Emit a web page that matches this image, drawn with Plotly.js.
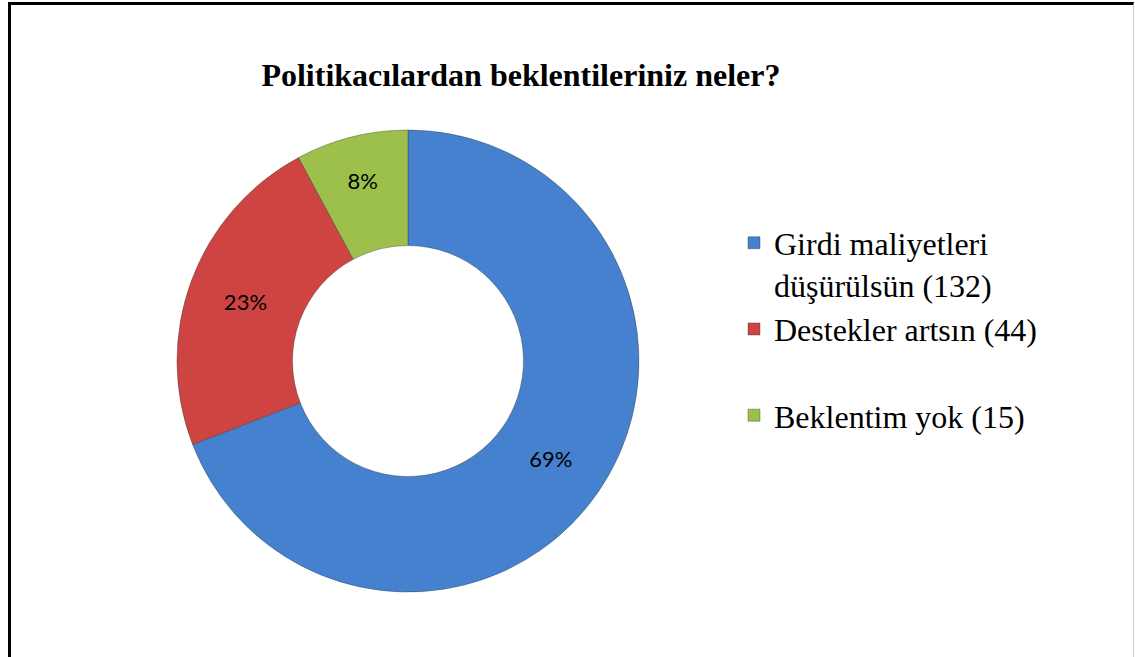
<!DOCTYPE html>
<html>
<head>
<meta charset="utf-8">
<script src="https://cdn.plot.ly/plotly-3.0.1.min.js"></script>
<style>
  html, body { margin: 0; padding: 0; background: #ffffff; }
  #wrap { position: relative; width: 1135px; height: 657px; overflow: hidden; }
  #chart { position: absolute; left: 0; top: 0; width: 1135px; height: 657px; }
  #frame { position: absolute; left: 8px; top: 2px; width: 1126px; height: 700px;
           border-top: 3px solid #000; border-left: 3px solid #000; border-right: 1px solid #c8c8c8;
           pointer-events: none; box-sizing: border-box; }
</style>
</head>
<body>
<div id="wrap">
  <div id="chart"></div>
  <div id="frame"></div>
</div>
<script>
const categories = ["Girdi maliyetleri<br>düşürülsün (132)", "Destekler artsın (44)<br>\u00a0", "Beklentim yok (15)"];
const counts = [132, 44, 15];
const colors = ["#4581CE", "#CE4442", "#9CC04B"];

const trace = {
  type: "pie",
  labels: categories,
  values: counts,
  hole: 0.5,
  sort: false,
  direction: "clockwise",
  rotation: 0,
  textinfo: "percent",
  texttemplate: "%{percent:.0%}",
  textposition: "inside",
  insidetextorientation: "horizontal",
  textfont: { family: "Lato, 'Open Sans', sans-serif", size: 22, color: "#000000" },
  marker: { colors: colors, line: { color: "rgba(50,50,50,0.55)", width: 0.7 } },
  domain: { x: [0.1559, 0.5630], y: [0.0989, 0.8021] },
  hoverinfo: "label+value+percent"
};

const layout = {
  width: 1135,
  height: 657,
  margin: { l: 0, r: 0, t: 0, b: 0 },
  paper_bgcolor: "rgba(0,0,0,0)",
  plot_bgcolor: "rgba(0,0,0,0)",
  title: {
    text: "<b>Politikacılardan beklentileriniz neler?</b>",
    font: { family: "'Liberation Serif', 'Times New Roman', serif", size: 32, color: "#000000" },
    x: 0.459, xref: "container", xanchor: "center",
    y: 0.886, yref: "container", yanchor: "middle"
  },
  showlegend: true,
  legend: {
    x: 0.6467, y: 0.672, xanchor: "left", yanchor: "top",
    font: { family: "'Liberation Serif', 'Times New Roman', serif", size: 32, color: "#000000" },
    valign: "top",
    itemwidth: 30,
    tracegroupgap: 0,
    bgcolor: "rgba(0,0,0,0)"
  }
};

Plotly.newPlot("chart", [trace], layout, { displayModeBar: false, staticPlot: true });
</script>
</body>
</html>
